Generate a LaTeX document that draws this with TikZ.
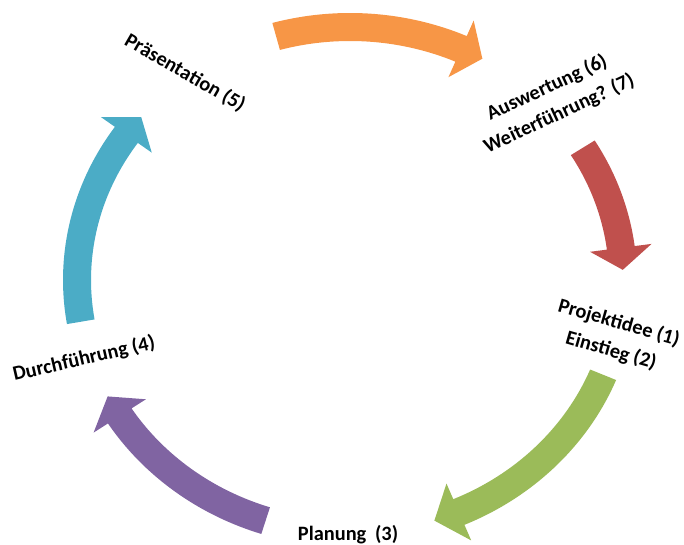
\documentclass[tikz,border=0pt]{standalone}
\usepackage{fontspec}
\setmainfont{Carlito}
\definecolor{aorange}{HTML}{F79646}
\definecolor{ared}{HTML}{C0504D}
\definecolor{agreen}{HTML}{9BBB59}
\definecolor{apurple}{HTML}{8064A2}
\definecolor{ablue}{HTML}{4BACC6}
\newcommand\cycarrow[4]{%
 \fill[#1] ({350+287*cos(#2)},{265+267*sin(#2)})
   arc[start angle=#2, end angle=#3, x radius=287, y radius=267]
   -- ({350+304*cos(#3)},{265+284*sin(#3)})
   -- ({350+273*cos(#4)},{265+253*sin(#4)})
   -- ({350+242*cos(#3)},{265+222*sin(#3)})
   -- ({350+259*cos(#3)},{265+239*sin(#3)})
   arc[start angle=#3, end angle=#2, x radius=259, y radius=239] -- cycle;}
\begin{document}
\begin{tikzpicture}[x=0.5pt,y=0.5pt,
  lbl/.style={font=\fontsize{10.2}{14.4}\selectfont\bfseries, align=center, inner sep=0pt, text=black}]
\useasboundingbox (0,0) rectangle (684,545);
\cycarrow{aorange}{105.7}{66}{61}
\cycarrow{ared}{31.5}{7.3}{2.3}
\cycarrow{agreen}{-22}{-66.5}{-72}
\cycarrow{apurple}{252}{212.5}{207.4}
\cycarrow{ablue}{189.5}{145}{139.9}
\node[lbl, rotate=-30] (praes) at (185,472) {Präsentation (5)};
\node[lbl, rotate=25] (ausw) at (553,444) {Auswertung (6)\\Weiterführung? (7)};
\node[lbl, rotate=-16] (proj) at (615,208) {Projektidee (1)\\Einstieg (2)};
\node[lbl, rotate=13] (durch) at (84,186) {Durchführung (4)};
\node[lbl] (plan) at (348,10) {Planung\hspace{0.2em} (3)};
\end{tikzpicture}
\end{document}
